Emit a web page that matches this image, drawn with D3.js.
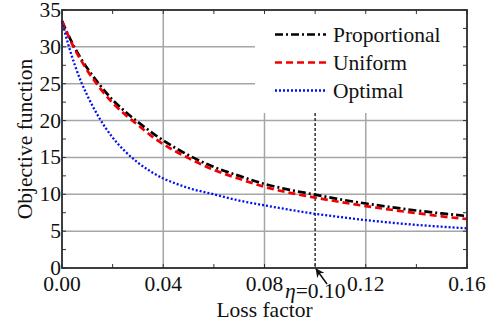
<!DOCTYPE html>
<html>
<head>
<meta charset="utf-8">
<script src="https://cdn.jsdelivr.net/npm/d3@7"></script>
<style>
  html, body { margin: 0; padding: 0; background: #fff; }
</style>
</head>
<body>
<svg id="chart" width="494" height="327" font-family="'Liberation Serif', 'Times New Roman', 'DejaVu Serif', serif"></svg>
<script>
// Loss factor sample points
const lossFactor = [0, 0.0025, 0.005, 0.0075, 0.01, 0.015, 0.02, 0.025, 0.03, 0.035, 0.04, 0.045,
  0.05, 0.06, 0.07, 0.08, 0.09, 0.10, 0.11, 0.12, 0.13, 0.14, 0.15, 0.16];

// Objective function for each allocation strategy
const proportional = [33.5, 31.6, 29.9, 28.4, 27.1, 24.8, 22.8, 21.2, 19.8, 18.5, 17.3, 16.25,
  15.3, 13.7, 12.5, 11.4, 10.6, 9.95, 9.3, 8.75, 8.25, 7.8, 7.4, 7.05];
const uniform = [33.5, 31.5, 29.7, 28.2, 26.8, 24.4, 22.4, 20.8, 19.4, 18.0, 16.8, 15.8,
  14.9, 13.3, 12.1, 11.0, 10.2, 9.55, 8.95, 8.4, 7.9, 7.45, 7.0, 6.65];
const optimal = [33.5, 30.3, 27.6, 25.3, 23.4, 20.2, 17.7, 15.8, 14.3, 13.1, 12.15, 11.45,
  10.85, 10.0, 9.15, 8.5, 7.9, 7.35, 6.9, 6.5, 6.15, 5.85, 5.6, 5.38];

const seriesNames = ["Proportional", "Uniform", "Optimal"];
const xTicks = [0, 0.04, 0.08, 0.12, 0.16];
const yTicks = [0, 5, 10, 15, 20, 25, 30, 35];
const etaValue = 0.10;

const svg = d3.select("#chart");
const L = 62, R = 467, T = 10, B = 268;
const ink = "#111";
const fs = 21.5;

const x = d3.scaleLinear().domain([0, 0.16]).range([L, R]);
const y = d3.scaleLinear().domain([0, 35]).range([B, T]);

// Grid
const grid = svg.append("g").attr("stroke", "#a6a6a6").attr("stroke-width", 1.5);
grid.selectAll("line.gx").data(xTicks.slice(1, -1)).join("line")
  .attr("x1", d => x(d)).attr("x2", d => x(d)).attr("y1", T).attr("y2", B);
grid.selectAll("line.gy").data(yTicks.slice(1, -1)).join("line")
  .attr("x1", L).attr("x2", R).attr("y1", d => y(d)).attr("y2", d => y(d));

// Legend backdrop hides the grid in the upper right corner
svg.append("rect").attr("x", 255).attr("y", T + 1).attr("width", R - 255 - 1).attr("height", 113 - T - 1)
  .attr("fill", "#fff");

// Marker for the chosen loss factor
svg.append("line")
  .attr("x1", x(etaValue)).attr("x2", x(etaValue)).attr("y1", 113).attr("y2", B)
  .attr("stroke", ink).attr("stroke-width", 1.3).attr("stroke-dasharray", "3,2");

// Curves
const styles = [
  { data: proportional, color: "#000", width: 2.7, dash: "8,3,2,3" },
  { data: uniform, color: "#f00000", width: 2.7, dash: "7,4" },
  { data: optimal, color: "#0010ee", width: 2.3, dash: "2,2" }
];
const line = d3.line().x(d => x(d[0])).y(d => y(d[1])).curve(d3.curveMonotoneX);
styles.forEach(s => {
  svg.append("path")
    .datum(lossFactor.map((v, i) => [v, s.data[i]]))
    .attr("d", line)
    .attr("fill", "none")
    .attr("stroke", s.color)
    .attr("stroke-width", s.width)
    .attr("stroke-dasharray", s.dash);
});

// Axes with inward ticks on all four sides
const minorX = d3.range(0, 0.1601, 0.02);
const minorY = d3.range(0, 35.01, 2.5);
const tickLen = 4;
const axG = svg.append("g").attr("stroke", "#333").attr("stroke-width", 1);
axG.selectAll("line.tb").data(minorX).join("line")
  .attr("x1", d => x(d)).attr("x2", d => x(d)).attr("y1", B).attr("y2", B - tickLen);
axG.selectAll("line.tt").data(minorX).join("line")
  .attr("x1", d => x(d)).attr("x2", d => x(d)).attr("y1", T).attr("y2", T + tickLen);
axG.selectAll("line.tl").data(minorY).join("line")
  .attr("x1", L).attr("x2", L + tickLen).attr("y1", d => y(d)).attr("y2", d => y(d));
axG.selectAll("line.tr").data(minorY).join("line")
  .attr("x1", R).attr("x2", R - tickLen).attr("y1", d => y(d)).attr("y2", d => y(d));

svg.append("rect").attr("x", L).attr("y", T).attr("width", R - L).attr("height", B - T)
  .attr("fill", "none").attr("stroke", "#2a2a2a").attr("stroke-width", 1.8);

// Tick labels
svg.selectAll("text.xt").data(xTicks).join("text")
  .attr("x", d => x(d)).attr("y", 291).attr("fill", ink)
  .attr("text-anchor", "middle").attr("font-size", fs)
  .text(d3.format(".2f"));
svg.selectAll("text.yt").data(yTicks).join("text")
  .attr("x", L - 1).attr("y", d => y(d) + 7).attr("fill", ink)
  .attr("text-anchor", "end").attr("font-size", fs)
  .text(d => d);

// Axis titles
svg.append("text").attr("x", (L + R) / 2).attr("y", 317).attr("fill", ink)
  .attr("text-anchor", "middle").attr("font-size", fs).text("Loss factor");
svg.append("text").attr("transform", `translate(32,${(T + B) / 2}) rotate(-90)`).attr("fill", ink)
  .attr("text-anchor", "middle").attr("font-size", fs).text("Objective function");

// Annotation arrow and label
svg.append("defs").append("marker")
  .attr("id", "arrowHead").attr("viewBox", "0 0 10 10").attr("refX", 9).attr("refY", 5)
  .attr("markerWidth", 9).attr("markerHeight", 9).attr("orient", "auto-start-reverse")
  .attr("markerUnits", "userSpaceOnUse")
  .append("path").attr("d", "M0,0 L10,5 L0,10 L3,5 Z").attr("fill", ink);
svg.append("line")
  .attr("x1", 327).attr("y1", 284).attr("x2", x(etaValue) + 1).attr("y2", B + 1)
  .attr("stroke", ink).attr("stroke-width", 1.5).attr("marker-end", "url(#arrowHead)");
const eta = svg.append("text").attr("x", 285).attr("y", 298).attr("font-size", fs).attr("fill", ink);
eta.append("tspan").attr("font-style", "italic").text("η");
eta.append("tspan").text("=" + d3.format(".2f")(etaValue));

// Legend
const legend = svg.append("g");
styles.forEach((s, i) => {
  const ly = 34.5 + i * 28;
  legend.append("line").attr("x1", 275).attr("x2", 326).attr("y1", ly).attr("y2", ly)
    .attr("stroke", s.color).attr("stroke-width", s.width).attr("stroke-dasharray", s.dash);
  legend.append("text").attr("x", 333).attr("y", ly + 7).attr("font-size", fs).attr("fill", ink)
    .text(seriesNames[i]);
});
</script>
</body>
</html>
